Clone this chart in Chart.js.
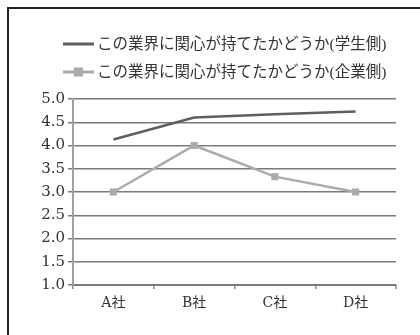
<!DOCTYPE html>
<html lang="ja">
<head>
<meta charset="utf-8">
<script src="https://cdn.jsdelivr.net/npm/chart.js@4/dist/chart.umd.min.js"></script>
<style>
  html, body { margin: 0; padding: 0; background: #fff; }
  #wrap { position: relative; width: 420px; height: 335px; overflow: hidden; }
  #frame {
    position: absolute; left: 7px; top: 7px; width: 500px; height: 400px;
    border-top: 2px solid #222; border-left: 2px solid #222;
  }
  canvas { position: absolute; left: 0; top: 0; }
</style>
</head>
<body>
<div id="wrap">
  <div id="frame"></div>
  <canvas id="chart" width="420" height="335"></canvas>
</div>
<script>
// 会社ごとの評価（5段階）
const companies = ['A社', 'B社', 'C社', 'D社'];
const studentScores = [4.13, 4.6, 4.67, 4.73];
const companyScores = [3.0, 4.0, 3.33, 3.0];
const seriesNames = [
  'この業界に関心が持てたかどうか(学生側)',
  'この業界に関心が持てたかどうか(企業側)'
];
const yTicks = [1.0, 1.5, 2.0, 2.5, 3.0, 3.5, 4.0, 4.5, 5.0];

const serif = '"DejaVu Serif", "Liberation Serif", "Noto Sans CJK JP", serif';
const legendFont = '"Liberation Serif", "Noto Sans CJK JP", serif';

// Legend drawn by hand: line sample, optional square marker, then the label
const legendPlugin = {
  id: 'stackedLegend',
  afterDraw(chart) {
    const ctx = chart.ctx;
    const rows = [44, 72];
    chart.data.datasets.forEach((ds, i) => {
      const y = rows[i];
      ctx.save();
      ctx.strokeStyle = ds.borderColor;
      ctx.lineWidth = 3;
      ctx.beginPath();
      ctx.moveTo(63, y);
      ctx.lineTo(94, y);
      ctx.stroke();
      if (ds.pointRadius > 0) {
        ctx.fillStyle = ds.pointBackgroundColor;
        ctx.fillRect(78.5 - 4.5, y - 4.5, 9, 9);
      }
      ctx.fillStyle = '#333';
      ctx.font = '15.5px ' + legendFont;
      ctx.textBaseline = 'middle';
      ctx.fillText(ds.label, 97, y + 0.5);
      ctx.restore();
    });
  }
};

new Chart(document.getElementById('chart'), {
  type: 'line',
  data: {
    labels: companies,
    datasets: [
      {
        label: seriesNames[0],
        data: studentScores,
        borderColor: '#5e5e5e',
        borderWidth: 2.5,
        pointRadius: 0,
        pointHoverRadius: 0,
        tension: 0
      },
      {
        label: seriesNames[1],
        data: companyScores,
        borderColor: '#ababab',
        borderWidth: 2.5,
        pointStyle: 'rect',
        pointRadius: 5,
        pointBackgroundColor: '#ababab',
        pointBorderColor: '#ababab',
        pointBorderWidth: 0,
        tension: 0
      }
    ]
  },
  options: {
    responsive: false,
    animation: false,
    devicePixelRatio: 1,
    layout: { padding: { left: 0, right: 24, top: 99, bottom: 0 } },
    plugins: {
      legend: { display: false },
      tooltip: { enabled: false }
    },
    scales: {
      x: {
        offset: true,
        grid: {
          offset: true,
          drawOnChartArea: false,
          color: '#8a8a8a',
          lineWidth: 1.5,
          tickLength: 4
        },
        border: { color: '#7a7a7a', width: 2 },
        ticks: {
          color: '#333',
          font: { family: serif, size: 14 },
          padding: 6
        },
        afterFit(scale) { scale.height = 50; }
      },
      y: {
        min: 1,
        max: 5,
        afterBuildTicks(scale) { scale.ticks = yTicks.map(v => ({ value: v })); },
        grid: {
          color: '#7a7a7a',
          lineWidth: 1.5,
          tickLength: 5
        },
        border: { color: '#a0a0a0', width: 2 },
        ticks: {
          color: '#333',
          font: { family: serif, size: 15 },
          padding: 3,
          callback: v => Number(v).toFixed(1)
        },
        afterFit(scale) { scale.width = 73; }
      }
    }
  },
  plugins: [legendPlugin]
});
</script>
</body>
</html>
